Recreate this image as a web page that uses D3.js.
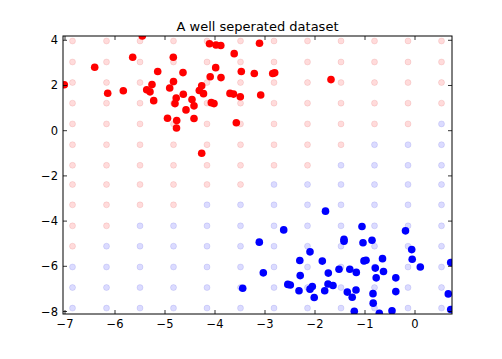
<!DOCTYPE html>
<html><head><meta charset="utf-8">
<script src="https://cdn.jsdelivr.net/npm/d3@7"></script>
<style>body{margin:0;background:#fff}svg{display:block}text{font-family:"DejaVu Sans",sans-serif}</style>
</head><body>
<script>
const title = "A well seperated dataset";
const xTicks = [-7,-6,-5,-4,-3,-2,-1,0];
const yTicks = [-8,-6,-4,-2,0,2,4];
const xDomain = [-7.04, 0.74];
const yDomain = [-8.11, 4.19];

const redX = [-5.454,-5.646,-4.834,-6.406,-5.146,-4.64,-7.014,-6.146,-5.834,-5.26,-5.366,-5.30,-4.83,-4.906,-5.226,-4.776,-4.634,-4.80,-4.46,-4.42,-4.58,-4.314,-4.266,-4.23,-4.95,-4.766,-4.77,-4.42,-4.266,-4.11,-3.98,-3.884,-3.11,-3.616,-3.986,-3.474,-3.214,-2.846,-2.806,-4.096,-3.88,-1.68,-3.70,-3.63,-3.494,-3.086,-4.074,-4.02,-3.574];
const redY = [4.19,3.25,3.25,2.81,2.62,2.57,2.03,1.66,1.77,2.04,1.81,1.72,2.18,1.89,1.33,1.45,1.61,1.20,1.38,1.10,0.92,1.78,1.99,1.64,0.55,0.45,0.12,0.54,-1.00,3.85,3.79,3.77,3.87,3.41,2.79,2.62,2.53,2.53,2.56,2.39,2.35,2.26,1.65,1.62,1.50,1.58,1.24,1.20,0.35];

const blueX = [-1.79,-2.626,-3.114,-1.42,-1.42,-1.06,-1.04,-0.86,-0.19,-0.066,-0.056,0.106,-2.10,-2.304,-1.854,-3.034,-2.296,-1.734,-1.52,-1.304,-1.174,-1.02,-0.98,-0.794,-0.776,-0.65,-0.63,-0.384,-0.384,-3.446,-2.544,-2.494,-2.32,-2.10,-2.054,-2.016,-1.806,-1.74,-1.64,-1.354,-1.256,-1.18,-1.214,-0.84,-0.836,-0.714,-0.46,0.666,0.714,0.714];
const blueY = [-3.56,-4.39,-4.93,-4.80,-4.89,-4.24,-4.96,-4.85,-4.43,-5.26,-5.69,-6.03,-5.36,-5.74,-5.77,-6.29,-6.41,-6.30,-6.13,-6.13,-6.27,-5.76,-5.73,-6.08,-6.51,-5.66,-6.23,-6.51,-7.12,-6.97,-6.80,-6.83,-7.08,-7.01,-6.89,-7.38,-7.08,-6.78,-6.85,-7.14,-7.37,-7.05,-7.99,-7.21,-7.63,-8.08,-7.97,-7.22,-7.91,-5.83];

const gridX = [-6.85,-6.17,-5.50,-4.83,-4.16,-3.49,-2.82,-2.15,-1.48,-0.81,-0.14,0.53];
const gridY = [3.97,3.04,2.13,1.22,0.30,-0.62,-1.53,-2.38,-3.28,-4.21,-5.11,-6.03,-6.94,-7.85];
// predicted class of each grid point, one string per row (R = red, B = blue)
const gridClass = [
  "RRRRRRRRRRRR",
  "RRRRRRRRRRRR",
  "RRRRRRRRRRRR",
  "RRRRRRRRRRRR",
  "RRRRRRRRRRRB",
  "RRRRRRRRRBBB",
  "RRRRRRRRBBBB",
  "RRRRRRBBBBBB",
  "RRRRBBBBBBBB",
  "RRBBBBBBBBBB",
  "RBBBBBBBBBBB",
  "BBBBBBBBBBBB",
  "BBBBBBBBBBBB",
  "BBBBBBBBBBBB"
];

const W = 502, H = 359;
const m = {l:63, r:452, t:36, b:314};
const svg = d3.select("body").append("svg").attr("width", W).attr("height", H);
const x = d3.scaleLinear().domain(xDomain).range([m.l, m.r]);
const y = d3.scaleLinear().domain(yDomain).range([m.b, m.t]);

svg.append("defs").append("clipPath").attr("id","clip")
  .append("rect").attr("x", m.l).attr("y", m.t).attr("width", m.r-m.l).attr("height", m.b-m.t);

const plot = svg.append("g").attr("clip-path","url(#clip)");

const gridPts = [];
gridY.forEach((gy,i) => gridX.forEach((gx,j) => gridPts.push({x:gx, y:gy, c:gridClass[i][j]})));
plot.selectAll("circle.grid").data(gridPts).enter().append("circle")
  .attr("class","grid")
  .attr("cx", d => x(d.x)).attr("cy", d => y(d.y)).attr("r", 3)
  .attr("fill", d => d.c === "R" ? "rgba(255,0,0,0.14)" : "rgba(0,0,255,0.14)")
  .attr("stroke", d => d.c === "R" ? "rgba(200,0,0,0.13)" : "rgba(0,0,200,0.13)")
  .attr("stroke-width", 0.8);

plot.selectAll("circle.red").data(redX.map((v,i)=>[v,redY[i]])).enter().append("circle")
  .attr("cx", d => x(d[0])).attr("cy", d => y(d[1])).attr("r", 3.8).attr("fill", "#ff0000");
plot.selectAll("circle.blue").data(blueX.map((v,i)=>[v,blueY[i]])).enter().append("circle")
  .attr("cx", d => x(d[0])).attr("cy", d => y(d[1])).attr("r", 3.8).attr("fill", "#0000ff");

const fmt = d => d < 0 ? "\u2212" + Math.abs(d) : String(d);
const tl = 4;
const ax = svg.append("g").attr("stroke","#000").attr("stroke-width",0.8);
xTicks.forEach(t => {
  ax.append("line").attr("x1", x(t)).attr("x2", x(t)).attr("y1", m.b).attr("y2", m.b - tl);
  ax.append("line").attr("x1", x(t)).attr("x2", x(t)).attr("y1", m.t).attr("y2", m.t + tl);
});
yTicks.forEach(t => {
  ax.append("line").attr("y1", y(t)).attr("y2", y(t)).attr("x1", m.l).attr("x2", m.l + tl);
  ax.append("line").attr("y1", y(t)).attr("y2", y(t)).attr("x1", m.r).attr("x2", m.r - tl);
});
svg.append("rect").attr("x", m.l).attr("y", m.t).attr("width", m.r-m.l).attr("height", m.b-m.t)
  .attr("fill","none").attr("stroke","#000").attr("stroke-width",1);

svg.selectAll("text.xt").data(xTicks).enter().append("text")
  .attr("x", d => x(d)).attr("y", m.b + 14).attr("text-anchor","middle")
  .attr("font-size", 11.5).text(fmt);
svg.selectAll("text.yt").data(yTicks).enter().append("text")
  .attr("x", m.l - 5).attr("y", d => y(d) + 4).attr("text-anchor","end")
  .attr("font-size", 11.5).text(fmt);
svg.append("text").attr("x", (m.l+m.r)/2).attr("y", 31).attr("text-anchor","middle")
  .attr("font-size", 13).text(title);
</script>
</body></html>
